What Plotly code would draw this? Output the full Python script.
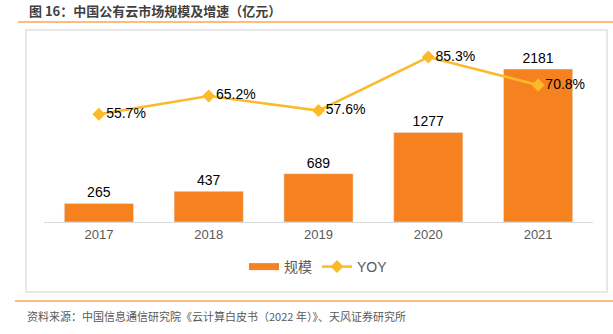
import plotly.graph_objects as go

years = ["2017", "2018", "2019", "2020", "2021"]
scale = [265, 437, 689, 1277, 2181]
yoy = [55.7, 65.2, 57.6, 85.3, 70.8]
yoy_labels = ["55.7%", "65.2%", "57.6%", "85.3%", "70.8%"]

title_text = "图 16：中国公有云市场规模及增速（亿元）"
source_text = "资料来源：中国信息通信研究院《云计算白皮书（2022 年）》、天风证券研究所"

W, H = 613, 334
L, R, T, B = 44, 20, 40, 112
pw, ph = W - L - R, H - T - B

BAR_COLOR = "#F5821F"
LINE_COLOR = "#FBBA2A"

def px(x):
    return (x - L) / pw

def py(y):
    return (H - B - y) / ph

fig = go.Figure()
fig.add_trace(go.Bar(
    x=years, y=scale, name="规模", marker_color=BAR_COLOR,
    text=[str(v) for v in scale], textposition="outside",
    textfont=dict(color="#000000", size=14, family="Liberation Sans"),
    cliponaxis=False, showlegend=False,
))
# legend entry for the bars (wide swatch)
fig.add_trace(go.Scatter(
    x=[None], y=[None], name="规模", mode="lines",
    line=dict(color=BAR_COLOR, width=7), showlegend=True,
))
fig.add_trace(go.Scatter(
    x=years, y=yoy, name="YOY", yaxis="y2", mode="lines+markers+text",
    line=dict(color=LINE_COLOR, width=2.5),
    marker=dict(symbol="diamond", size=10, color=LINE_COLOR),
    text=yoy_labels, textposition="middle right",
    textfont=dict(color="#000000", size=14, family="Liberation Sans"),
    cliponaxis=False,
))

fig.update_layout(
    width=W, height=H,
    margin=dict(l=L, r=R, t=T, b=B),
    paper_bgcolor="white", plot_bgcolor="white",
    bargap=0.37,
    font=dict(family="Liberation Sans, Noto Sans CJK SC", color="#595959"),
    xaxis=dict(showline=True, linecolor="#D9D9D9", linewidth=1, ticks="",
               tickfont=dict(size=13, color="#595959"), showgrid=False),
    yaxis=dict(range=[0, 2595], visible=False, showgrid=False),
    yaxis2=dict(range=[0, 94.1], overlaying="y", side="right", visible=False,
                showgrid=False),
    legend=dict(orientation="h", x=0.5, xanchor="center", y=py(267),
                yanchor="middle", font=dict(size=14, color="#595959",
                family="Liberation Sans, Noto Sans CJK SC"),
                itemwidth=30, traceorder="normal"),
    showlegend=True,
    shapes=[
        dict(type="line", xref="paper", yref="paper", x0=px(18), x1=px(613),
             y0=py(22), y1=py(22), line=dict(color="#F7A65C", width=1.5)),
        dict(type="rect", xref="paper", yref="paper", x0=px(26), x1=px(607),
             y0=py(30), y1=py(292), line=dict(color="#E0E0E0", width=1.5),
             layer="below"),
        dict(type="line", xref="paper", yref="paper", x0=px(15), x1=px(613),
             y0=py(301), y1=py(301), line=dict(color="#F7A65C", width=1.5)),
    ],
    annotations=[
        dict(text="<b>" + title_text + "</b>", xref="paper", yref="paper",
             x=px(27), y=py(11), xanchor="left", yanchor="middle",
             showarrow=False,
             font=dict(size=13, color="#404040", family="Noto Sans CJK SC")),
        dict(text=source_text, xref="paper", yref="paper",
             x=px(25), y=py(316), xanchor="left", yanchor="middle",
             showarrow=False,
             font=dict(size=11, color="#595959", family="Noto Sans CJK SC")),
    ],
)

fig.write_html("out.html")
